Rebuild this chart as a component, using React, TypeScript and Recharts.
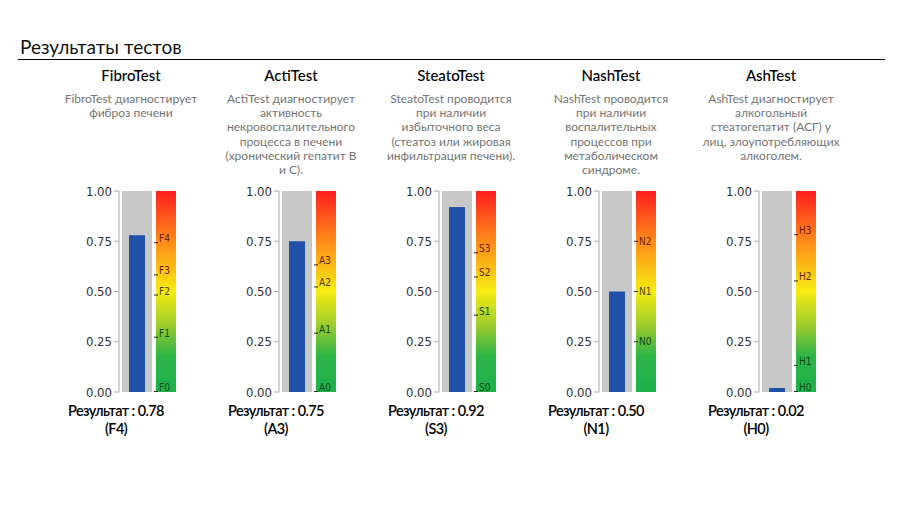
import React from "react";
import { BarChart, XAxis, YAxis, Bar } from "recharts";

const tests = ["FibroTest", "ActiTest", "SteatoTest", "NashTest", "AshTest"];

const descriptions = [
  ["FibroTest диагностирует", "фиброз печени"],
  [
    "ActiTest диагностирует",
    "активность",
    "некровоспалительного",
    "процесса в печени",
    "(хронический гепатит В",
    "и С).",
  ],
  [
    "SteatoTest проводится",
    "при наличии",
    "избыточного веса",
    "(стеатоз или жировая",
    "инфильтрация печени).",
  ],
  [
    "NashTest проводится",
    "при наличии",
    "воспалительных",
    "процессов при",
    "метаболическом",
    "синдроме.",
  ],
  [
    "AshTest диагностирует",
    "алкогольный",
    "стеатогепатит (АСГ) у",
    "лиц, злоупотребляющих",
    "алкоголем.",
  ],
];

const scores = [0.78, 0.75, 0.92, 0.5, 0.02];
const stages = ["F4", "A3", "S3", "N1", "H0"];

const levelNames = [
  ["F0", "F1", "F2", "F3", "F4"],
  ["A0", "A1", "A2", "A3"],
  ["S0", "S1", "S2", "S3"],
  ["N0", "N1", "N2"],
  ["H0", "H1", "H2", "H3"],
];

const levelValues = [
  [0, 0.27, 0.48, 0.58, 0.74],
  [0, 0.29, 0.52, 0.63],
  [0, 0.38, 0.57, 0.69],
  [0.25, 0.5, 0.75],
  [0, 0.13, 0.55, 0.78],
];

const yTicks = [0, 0.25, 0.5, 0.75, 1];

// NashTest puts its dash in the middle of the label, the others underline
const midMarks = [false, false, false, true, false];

const COL_W = 160;
const COL_X0 = 51;
const TEXT_FONT = "Lato, 'Open Sans', sans-serif";
const AXIS_FONT = "'DejaVu Sans Condensed', Roboto, sans-serif";

const labelColor = (v: number) => {
  if (v >= 0.55) return "#6b1d00";
  if (v >= 0.4) return "#4a3c00";
  return "#0a4a12";
};

const ResultShape = (props: any) => {
  const { x, y, width, height } = props;
  const w = 16;
  return (
    <rect x={x + (width - w) / 2} y={y} width={w} height={Math.max(height, 0)} fill="#2150a8" />
  );
};

const ScaleShape = (props: any) => {
  const { x, y, width, height, test } = props;
  const names = levelNames[test];
  const vals = levelValues[test];
  const mid = midMarks[test];
  return (
    <g>
      <rect x={x} y={y} width={width} height={height} fill={`url(#grad${test})`} />
      {vals.map((v, k) => {
        const ly = y + height * (1 - v);
        const col = labelColor(v);
        return (
          <g key={names[k]}>
            <line x1={x - 2} x2={x + 2} y1={mid ? ly : ly - 0.5} y2={mid ? ly : ly - 0.5} stroke="#222" strokeWidth={1} />
            <text
              x={x + 3}
              y={mid ? ly + 3.5 : ly - 1}
              fontSize={10}
              fontFamily={AXIS_FONT}
              fill={col}
            >
              {names[k]}
            </text>
          </g>
        );
      })}
    </g>
  );
};

const TestChart = ({ test }: { test: number }) => {
  const data = [{ name: tests[test], score: scores[test], scale: 1 }];
  return (
    <BarChart
      width={124}
      height={219}
      data={data}
      barGap={4}
      margin={{ top: 10, right: 6, bottom: 8, left: 0 }}
      style={{ position: "absolute", left: COL_X0 + test * COL_W + 10, top: 181 }}
    >
      <defs>
        <linearGradient id={`grad${test}`} x1="0" y1="0" x2="0" y2="1">
          <stop offset="0%" stopColor="#ff1f1f" />
          <stop offset="25%" stopColor="#ff8a18" />
          <stop offset="50%" stopColor="#f6ec12" />
          <stop offset="68%" stopColor="#96c92e" />
          <stop offset="82%" stopColor="#2db548" />
          <stop offset="100%" stopColor="#1eb04a" />
        </linearGradient>
      </defs>
      <XAxis dataKey="name" hide />
      <YAxis
        type="number"
        domain={[0, 1]}
        ticks={yTicks}
        width={58}
        tickSize={5}
        tickFormatter={(v) => Number(v).toFixed(2)}
        axisLine={{ stroke: "#aaaaaa" }}
        tickLine={{ stroke: "#aaaaaa" }}
        tick={{ fontSize: 13, fill: "#333333", fontFamily: AXIS_FONT }}
      />
      <Bar
        dataKey="score"
        barSize={30}
        background={{ fill: "#c8c8c8" }}
        shape={(p: any) => <ResultShape {...p} />}
        isAnimationActive={false}
      />
      <Bar
        dataKey="scale"
        barSize={20}
        shape={(p: any) => <ScaleShape {...p} test={test} />}
        isAnimationActive={false}
      />
    </BarChart>
  );
};

export default function App() {
  return (
    <div
      style={{
        position: "absolute",
        left: 0,
        top: 0,
        width: 905,
        height: 515,
        background: "#ffffff",
        fontFamily: TEXT_FONT,
        overflow: "hidden",
      }}
    >
      <div
        style={{
          position: "absolute",
          left: 20,
          top: 36,
          fontSize: 19,
          lineHeight: "22px",
          color: "#111",
        }}
      >
        Результаты тестов
      </div>
      <div style={{ position: "absolute", left: 18, top: 59, width: 867, height: 1, background: "#000" }} />

      {tests.map((t, i) => (
        <React.Fragment key={t}>
          <div
            style={{
              position: "absolute",
              left: COL_X0 + i * COL_W,
              width: COL_W,
              top: 66,
              textAlign: "center",
              fontSize: 15,
              lineHeight: "18px",
              fontWeight: 500,
              color: "#000",
            }}
          >
            {t}
          </div>
          <div
            style={{
              position: "absolute",
              left: COL_X0 + i * COL_W - 10,
              width: COL_W + 20,
              top: 92,
              textAlign: "center",
              fontSize: 12,
              lineHeight: "14.2px",
              color: "#747474",
            }}
          >
            {descriptions[i].map((line) => (
              <div key={line}>{line}</div>
            ))}
          </div>
          <TestChart test={i} />
          <div
            style={{
              position: "absolute",
              left: COL_X0 + i * COL_W - 15,
              width: COL_W,
              top: 402,
              textAlign: "center",
              fontSize: 14.5,
              fontWeight: 600,
              letterSpacing: -0.6,
              lineHeight: "18px",
              color: "#000",
            }}
          >
            <div>Результат : {scores[i].toFixed(2)}</div>
            <div>({stages[i]})</div>
          </div>
        </React.Fragment>
      ))}
    </div>
  );
}
